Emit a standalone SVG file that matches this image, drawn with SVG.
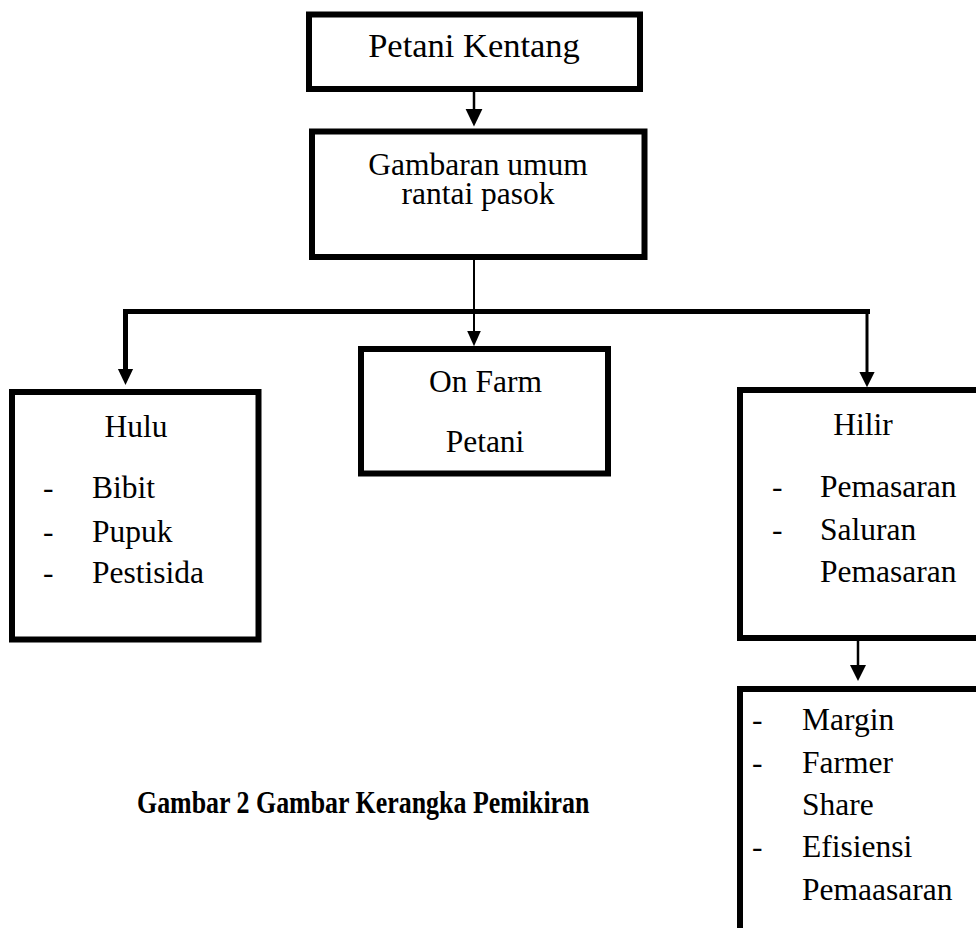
<svg xmlns="http://www.w3.org/2000/svg" width="976" height="928" viewBox="0 0 976 928">
<style>
.box{fill:#fff;stroke:#000;stroke-width:6}
.t{font-family:"Liberation Serif","Times New Roman",serif;font-size:31.5px;fill:#000}
.c{text-anchor:middle}
.ln{stroke:#000;fill:none}
.ah{fill:#000}
.cap{font-family:"Liberation Serif","Times New Roman",serif;font-size:32px;font-weight:bold;fill:#000}
</style>
<defs>
<path id="arrow" d="M-8,0 L8,0 L0,16 Z"/>
</defs>
<rect width="976" height="928" fill="#fff"/>
<g id="connectors">
<line class="ln" x1="474" y1="92" x2="474" y2="110" stroke-width="2.5"/>
<use href="#arrow" class="ah" transform="translate(474,109) scale(1.05,1.1)"/>
<line class="ln" x1="474" y1="259" x2="474" y2="332" stroke-width="2"/>
<use href="#arrow" class="ah" transform="translate(474,331) scale(0.85,0.95)"/>
<polyline class="ln" points="125.5,372 125.5,311.5 870,311.5" stroke-width="5"/>
<use href="#arrow" class="ah" transform="translate(125.5,369) scale(0.95,1)"/>
<line class="ln" x1="867" y1="311" x2="867" y2="374" stroke-width="3"/>
<use href="#arrow" class="ah" transform="translate(867,372) scale(0.95,0.95)"/>
<line class="ln" x1="858" y1="641" x2="858" y2="667" stroke-width="2.5"/>
<use href="#arrow" class="ah" transform="translate(858,665) scale(1,1)"/>
</g>
<g id="petani-kentang">
<rect class="box" x="309" y="14.5" width="331" height="74.5"/>
<text class="t c" x="474" y="57" style="font-size:34.5px">Petani Kentang</text>
</g>
<g id="gambaran-umum">
<rect class="box" x="312" y="131.5" width="332.5" height="125.5"/>
<text class="t c" x="478" y="175">Gambaran umum</text>
<text class="t c" x="478" y="204">rantai pasok</text>
</g>
<g id="hulu">
<rect class="box" x="12" y="392" width="246.5" height="247.5"/>
<text class="t c" x="136" y="437">Hulu</text>
<text class="t" x="43" y="498">-</text><text class="t" x="92" y="498">Bibit</text>
<text class="t" x="43" y="542">-</text><text class="t" x="92" y="542">Pupuk</text>
<text class="t" x="43" y="583">-</text><text class="t" x="92" y="583">Pestisida</text>
</g>
<g id="on-farm">
<rect class="box" x="361" y="349" width="247" height="124.5"/>
<text class="t c" x="485.5" y="392">On Farm</text>
<text class="t c" x="485" y="452">Petani</text>
</g>
<g id="hilir">
<rect class="box" x="740" y="390" width="260" height="248"/>
<text class="t c" x="863" y="435">Hilir</text>
<text class="t" x="772" y="497">-</text><text class="t" x="820" y="497">Pemasaran</text>
<text class="t" x="772" y="540">-</text><text class="t" x="820" y="540">Saluran</text>
<text class="t" x="820" y="582">Pemasaran</text>
</g>
<g id="margin">
<rect class="box" x="740" y="689" width="260" height="260"/>
<text class="t" x="752" y="730">-</text><text class="t" x="802" y="730">Margin</text>
<text class="t" x="752" y="773">-</text><text class="t" x="802" y="773">Farmer</text>
<text class="t" x="802" y="815">Share</text>
<text class="t" x="752" y="857">-</text><text class="t" x="802" y="857">Efisiensi</text>
<text class="t" x="802" y="900">Pemaasaran</text>
</g>
<g id="caption">
<text class="cap" transform="translate(137,813) scale(0.81,1)" x="0" y="0">Gambar 2 Gambar Kerangka Pemikiran</text>
</g>
</svg>
